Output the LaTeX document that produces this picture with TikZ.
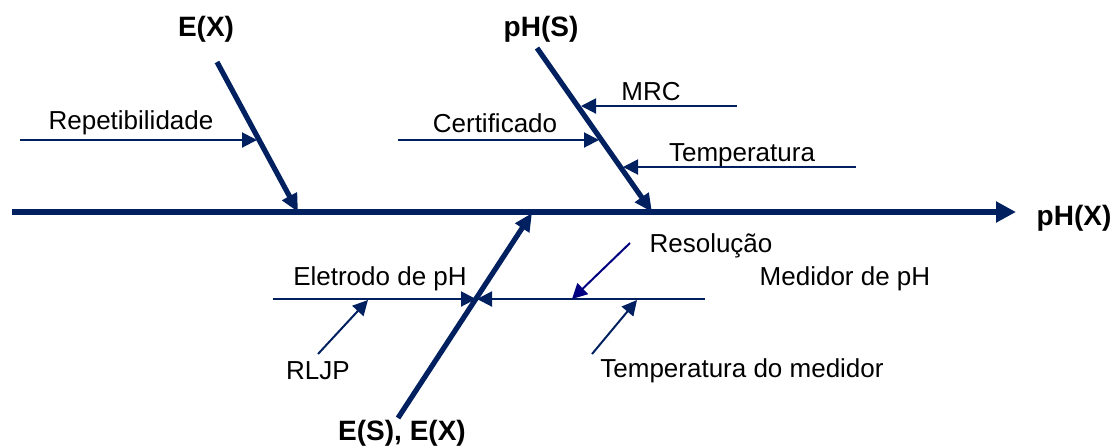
\documentclass[tikz,border=0pt]{standalone}
\usepackage{fontspec}
\setmainfont{Liberation Sans}
\usetikzlibrary{arrows.meta}
\definecolor{navy}{RGB}{0,32,96}
\definecolor{darkblue}{RGB}{0,0,128}
\tikzstyle{spine} = [line width=2.6pt, color=navy, -{Triangle[length=10pt,width=10pt]}]
\tikzstyle{bone} = [line width=2.6pt, color=navy, -{Triangle[length=9pt,width=8pt]}]
\tikzstyle{cause} = [line width=1pt, color=navy, -{Triangle[length=7.5pt,width=7.5pt]}]
\tikzstyle{txt} = [inner sep=0pt, font=\fontsize{13}{15}\selectfont]
\tikzstyle{head} = [inner sep=0pt, font=\fontsize{14}{16}\selectfont\bfseries]

\begin{document}
\begin{tikzpicture}[x=0.5pt,y=-0.5pt]
\useasboundingbox (0,0) rectangle (1114,447);
% spine
\coordinate (s0) at (12,212);
\coordinate (s1) at (1016,212);
\node[head] (phx) at (1074,218) {pH(X)};
\draw[spine] (s0) -- (s1);
% E(X)
\node[head] (ex) at (206,29) {E(X)};
\coordinate (ex0) at (217,62);
\coordinate (ex1) at (298,212);
\draw[bone] (ex0) -- (ex1);
\node[txt] (rep) at (131,123) {Repetibilidade};
\coordinate (rep0) at (20,140);
\coordinate (rep1) at (257,140);
\draw[cause] (rep0) -- (rep1);
% pH(S)
\node[head] (phs) at (541,29) {pH(S)};
\coordinate (phs0) at (537,48);
\coordinate (phs1) at (652,212);
\draw[bone] (phs0) -- (phs1);
\node[txt] (mrc) at (651,92) {MRC};
\coordinate (mrc0) at (737,106);
\coordinate (mrc1) at (581,106);
\draw[cause] (mrc0) -- (mrc1);
\node[txt] (cert) at (495,123) {Certificado};
\coordinate (cert0) at (398,140);
\coordinate (cert1) at (599,140);
\draw[cause] (cert0) -- (cert1);
\node[txt] (temp) at (742,155) {Temperatura};
\coordinate (temp0) at (856,167);
\coordinate (temp1) at (623,167);
\draw[cause] (temp0) -- (temp1);
% E(S), E(X)
\node[head] (esx) at (402,433) {E(S), E(X)};
\coordinate (esx0) at (398,418);
\coordinate (esx1) at (532,213);
\draw[bone] (esx0) -- (esx1);
\node[txt] (ele) at (380,279) {Eletrodo de pH};
\coordinate (ele0) at (273,299);
\coordinate (ele1) at (476,299);
\draw[cause] (ele0) -- (ele1);
\node[txt] (med) at (845,279) {Medidor de pH};
\coordinate (med0) at (705,299);
\coordinate (med1) at (477,299);
\draw[cause] (med0) -- (med1);
\node[txt] (res) at (711,246) {Resolução};
\coordinate (res0) at (630,243);
\coordinate (res1) at (572,299);
\draw[cause, color=darkblue] (res0) -- (res1);
\node[txt] (rljp) at (318,371) {RLJP};
\coordinate (rljp0) at (318,354);
\coordinate (rljp1) at (368,300);
\draw[cause] (rljp0) -- (rljp1);
\node[txt] (tmed) at (742,371) {Temperatura do medidor};
\coordinate (tmed0) at (592,354);
\coordinate (tmed1) at (637,300);
\draw[cause] (tmed0) -- (tmed1);
\end{tikzpicture}
\end{document}
